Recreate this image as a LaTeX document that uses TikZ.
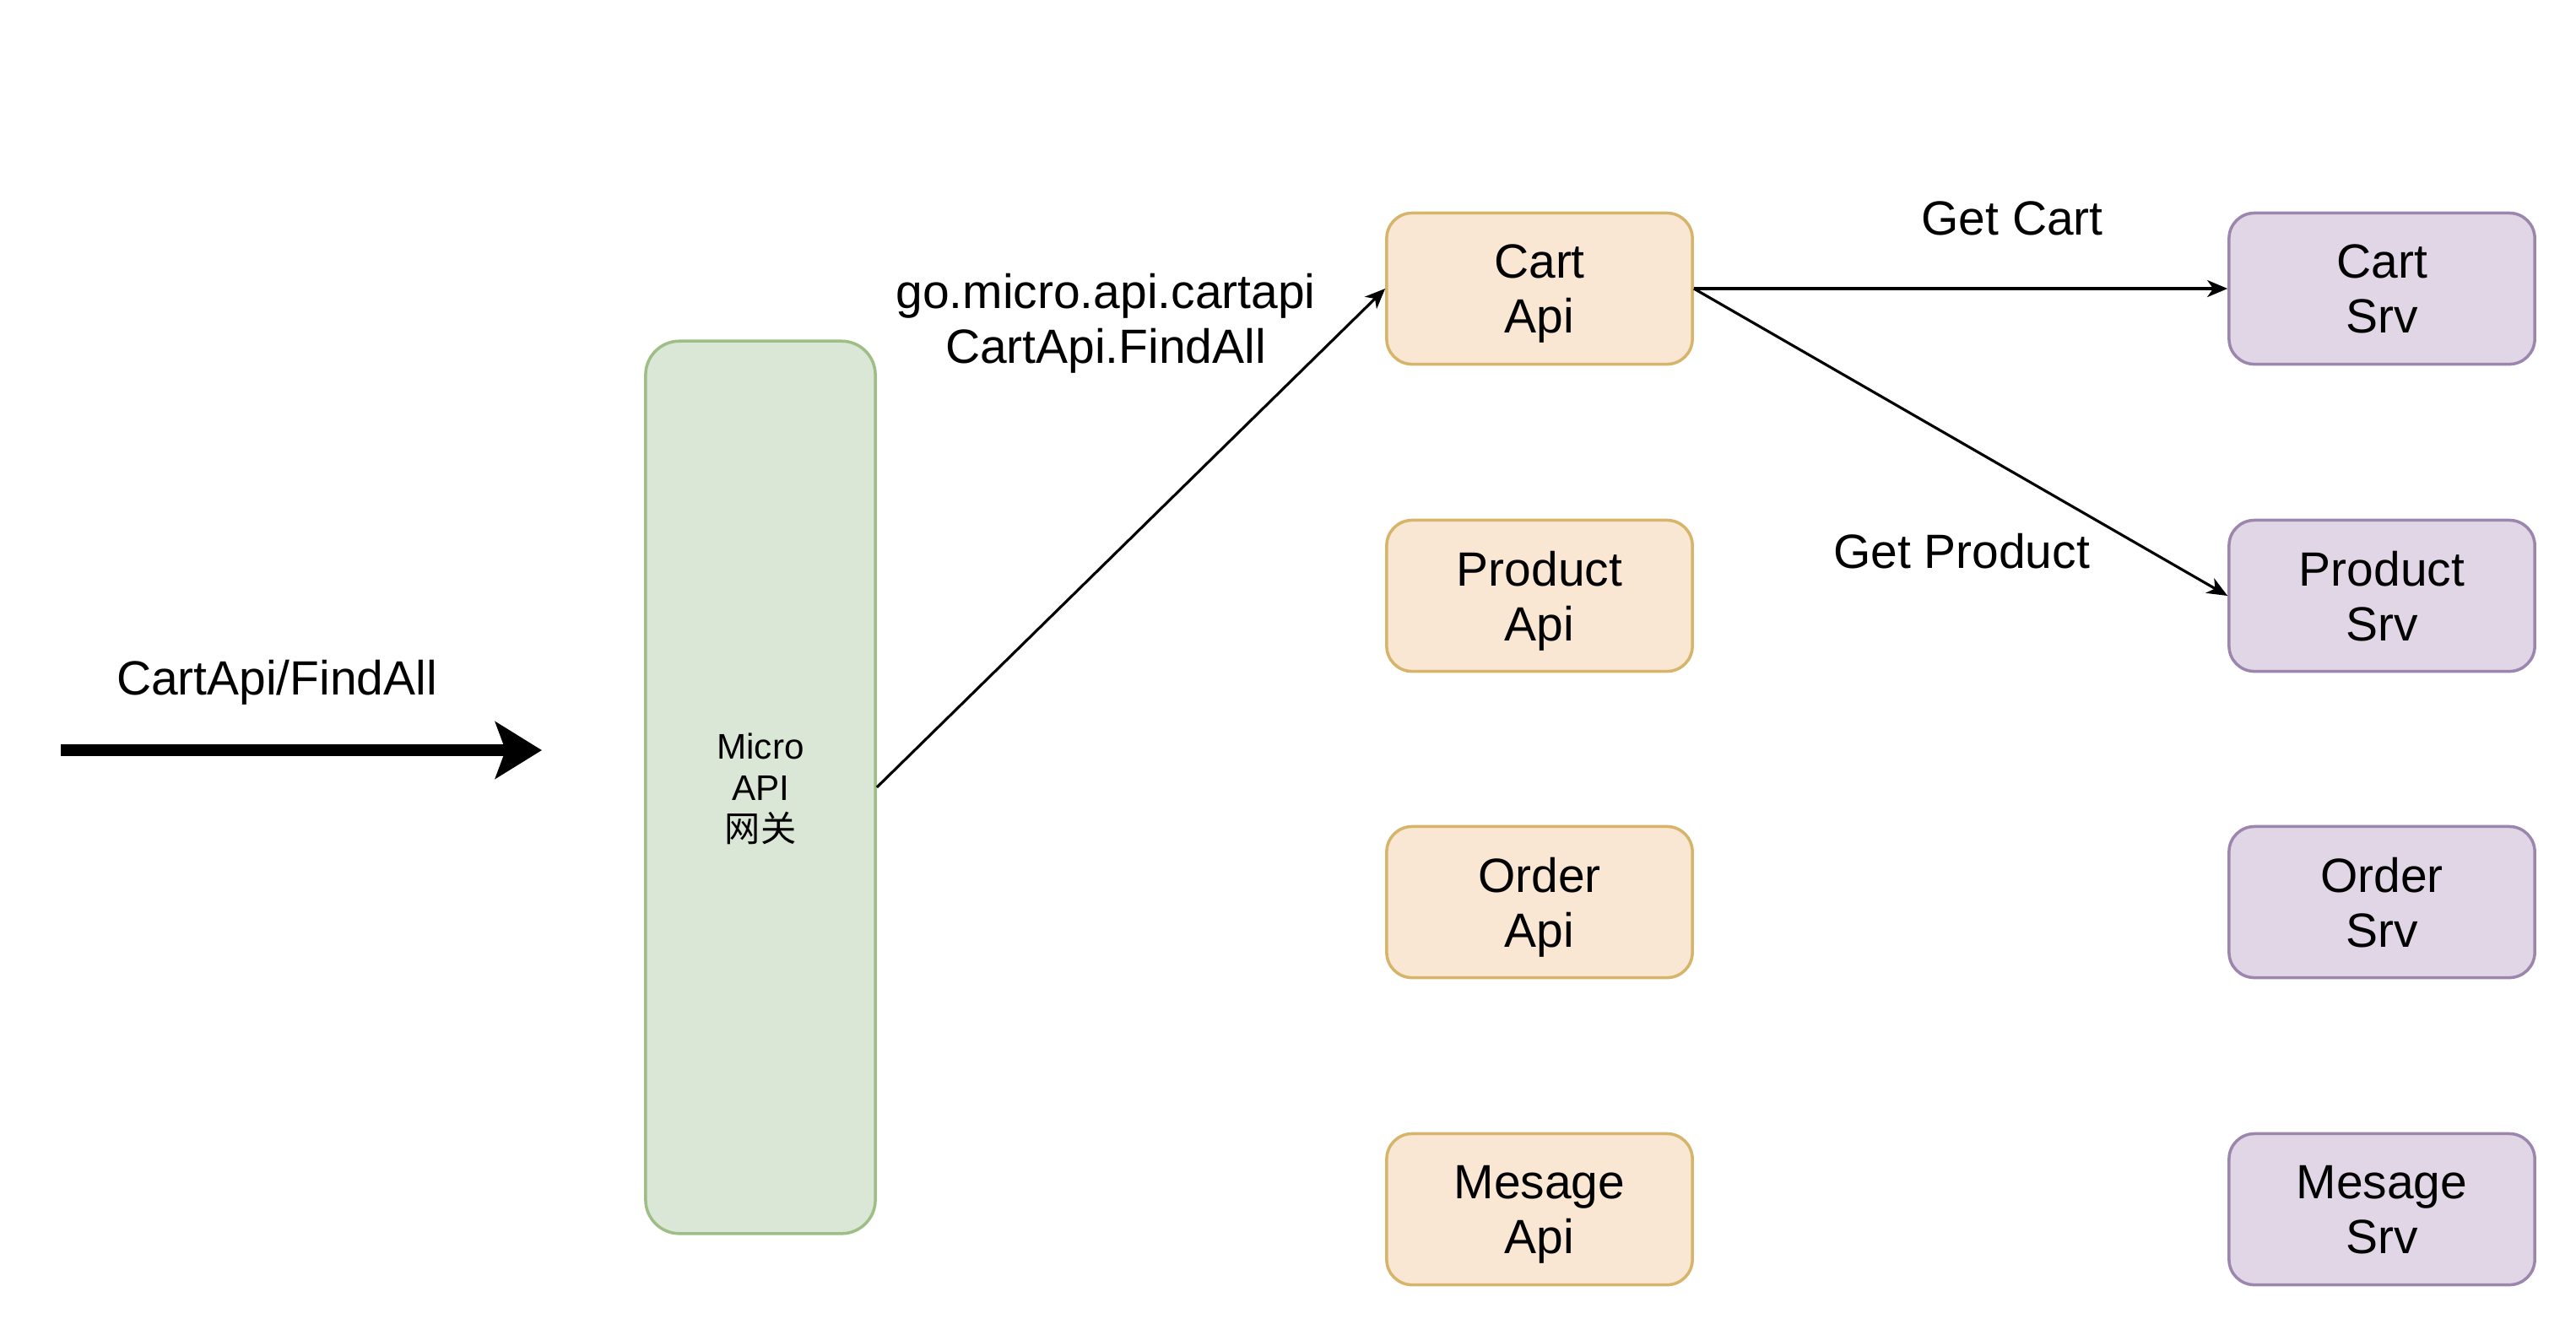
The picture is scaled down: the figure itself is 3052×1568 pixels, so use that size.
\documentclass[tikz,border=0pt]{standalone}
\usepackage{fontspec}
\setmainfont{Liberation Sans}
\newfontfamily\cjk{Noto Sans CJK SC}
\usetikzlibrary{arrows.meta}
\definecolor{gwfill}{HTML}{DAE6D6}
\definecolor{gwdraw}{HTML}{9DBF86}
\definecolor{apifill}{HTML}{F9E6D3}
\definecolor{apidraw}{HTML}{D6B46A}
\definecolor{srvfill}{HTML}{E0D6E6}
\definecolor{srvdraw}{HTML}{9C86AE}
\tikzset{
  box/.style={rounded corners=0.3cm, line width=1pt, minimum width=3.62cm, minimum height=1.79cm,
    inner sep=0pt, align=center, text depth=-0.1cm, font=\fontsize{16.2}{18.5}\selectfont},
  apibox/.style={box, fill=apifill, draw=apidraw},
  srvbox/.style={box, fill=srvfill, draw=srvdraw},
  gwbox/.style={rounded corners=0.4cm, line width=1pt, fill=gwfill, draw=gwdraw,
    minimum width=2.72cm, minimum height=10.57cm, inner sep=0pt, align=center, text depth=-0.04cm,
    font=\fontsize{12}{14}\selectfont},
  lbl/.style={inner sep=0pt, align=center, font=\fontsize{16.2}{18.5}\selectfont},
  conn/.style={line width=0.9pt, -{Stealth[length=0.24cm, width=0.2cm, inset=0.07cm]}},
  bigarrow/.style={line width=4pt, -{Stealth[length=0.55cm, width=0.67cm, inset=0.12cm]}}
}
\begin{document}
\begin{tikzpicture}[x=0.01cm, y=-0.01cm]
\useasboundingbox (0,0) rectangle (3052,1568);
\fill[white] (0,0) rectangle (3052,1568);

% gateway
\node[gwbox] (gw) at (901,933) {Micro\\API\\{\cjk 网关}};

% api column
\node[apibox] (cartapi) at (1824,342) {Cart\\Api};
\node[apibox] (prodapi) at (1824,706) {Product\\Api};
\node[apibox] (orderapi) at (1824,1069) {Order\\Api};
\node[apibox] (msgapi) at (1824,1433) {Mesage\\Api};

% srv column
\node[srvbox] (cartsrv) at (2822,342) {Cart\\Srv};
\node[srvbox] (prodsrv) at (2822,706) {Product\\Srv};
\node[srvbox] (ordersrv) at (2822,1069) {Order\\Srv};
\node[srvbox] (msgsrv) at (2822,1433) {Mesage\\Srv};

% incoming big arrow
\coordinate (inA) at (72,889);
\coordinate (inB) at (642,889);
\draw[bigarrow] (inA) -- (inB);
\node[lbl, anchor=base] (inlbl) at (328,823) {CartApi/FindAll};

% connectors
\draw[conn] (gw.east) -- (cartapi.west);
\node[lbl] (routelbl) at (1310,383) {go.micro.api.cartapi\\CartApi.FindAll};

\draw[conn] (cartapi.east) -- (cartsrv.west);
\node[lbl, anchor=base] (getcart) at (2384,278) {Get Cart};

\draw[conn] (cartapi.east) -- (prodsrv.west);
\node[lbl, anchor=base] (getprod) at (2324,673) {Get Product};
\end{tikzpicture}
\end{document}
